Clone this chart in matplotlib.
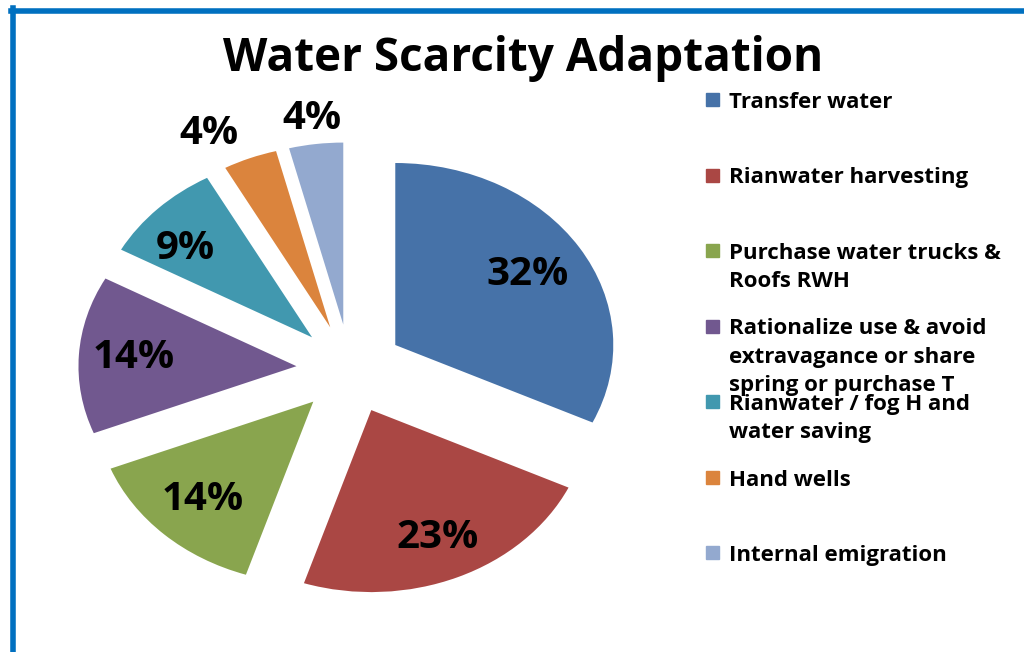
import matplotlib.pyplot as plt
from matplotlib.patches import Rectangle
from matplotlib.lines import Line2D
import numpy as np

# data
labels = ['Transfer water',
          'Rianwater harvesting',
          'Purchase water trucks &\nRoofs RWH',
          'Rationalize use & avoid\nextravagance or share\nspring or purchase T',
          'Rianwater / fog H and\nwater saving',
          'Hand wells',
          'Internal emigration']
shares = [32, 23, 14, 14, 9, 4, 4]
colors = ['#4672A8', '#AA4744', '#89A54E', '#71588F', '#4198AF', '#DB843D', '#93A9CF']

# label placement (style only)
explode = [0.246] * len(shares)
label_r = [0.72, 0.76, 0.74, 0.75, 0.76, 1.2, 1.14]
label_dtheta = [0, 0, 0, 0, 5, 6, 0]

plt.rcParams['font.family'] = ['Open Sans', 'DejaVu Sans']

W, H = 1024, 652
fig = plt.figure(figsize=(W / 100, H / 100), dpi=100)

# pie is stretched horizontally like the source (rx=218px, ry=182px)
rx, ry = 218, 182
cx, cy = 350, H - 369
xr, yr = 1.6, 1.6
ax = fig.add_axes([(cx - xr * rx) / W, (cy - yr * ry) / H, 2 * xr * rx / W, 2 * yr * ry / H])

wedges, _ = ax.pie(shares, colors=colors, startangle=90, counterclock=False,
                   explode=explode, wedgeprops=dict(linewidth=0))
ax.set_aspect('auto')
ax.set_xlim(-xr, xr)
ax.set_ylim(-yr, yr)
ax.axis('off')

for i, w in enumerate(wedges):
    mid = np.deg2rad((w.theta1 + w.theta2) / 2)
    ox, oy = explode[i] * np.cos(mid), explode[i] * np.sin(mid)
    ang = mid + np.deg2rad(label_dtheta[i])
    ax.text(ox + label_r[i] * np.cos(ang), oy + label_r[i] * np.sin(ang),
            '%d%%' % shares[i], ha='center', va='center',
            fontsize=29, fontweight='bold', color='black')

fig.text(523 / W, 1 - 71 / H, 'Water Scarcity Adaptation', ha='center', va='baseline',
         fontsize=33, fontweight='bold')

# legend, drawn like Excel's: fixed row pitch, text wraps downward
for i, lab in enumerate(labels):
    y = 100 + 75.5 * i
    fig.patches.append(Rectangle((706 / W, 1 - (y + 6) / H), 13 / W, 13 / H,
                                 transform=fig.transFigure, color=colors[i]))
    fig.text(729 / W, 1 - (y - 8) / H, lab, ha='left', va='top',
             fontsize=16, fontweight='bold', linespacing=1.45)

# blue chart border (only left and top edge visible in the source)
fig.lines.append(Line2D([12.5 / W, 12.5 / W], [0, 1 - 8 / H], transform=fig.transFigure,
                        color='#0070C0', linewidth=4))
fig.lines.append(Line2D([10.5 / W, 1], [1 - 10.5 / H, 1 - 10.5 / H], transform=fig.transFigure,
                        color='#0070C0', linewidth=4))

fig.savefig('out.png', dpi=100)
